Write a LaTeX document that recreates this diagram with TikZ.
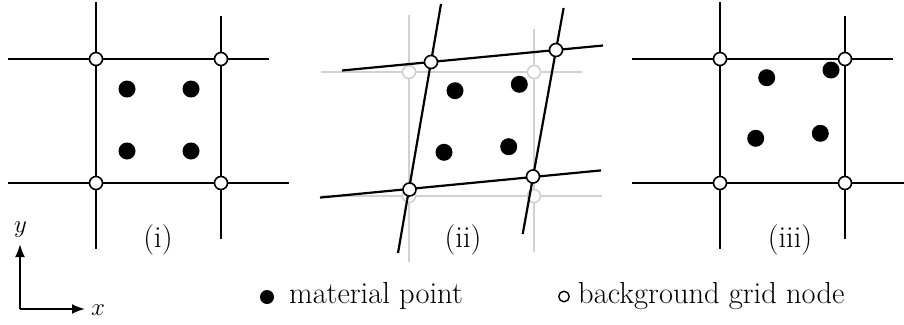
\documentclass[tikz,border=0pt]{standalone}
\usetikzlibrary{arrows.meta}
\begin{document}
\begin{tikzpicture}[x=1pt,y=-1pt,
  gridline/.style={line width=2.2pt},
  ghostline/.style={line width=2.2pt,draw=black!18},
  gnode/.style={circle,draw=black,fill=white,line width=1.6pt,minimum size=13pt,inner sep=0pt},
  ghostnode/.style={circle,draw=black!18,fill=white,line width=1.6pt,minimum size=13pt,inner sep=0pt},
  mpoint/.style={circle,fill=black,minimum size=17pt,inner sep=0pt},
  lbl/.style={font=\fontsize{30.5}{36}\selectfont,inner sep=0pt},
  axis/.style={line width=2pt,-{Latex[length=13pt,width=10pt]}}
]
\useasboundingbox (0,0) rectangle (904,324);

% ---------- panel (i)
\coordinate (i-v1a) at (96,2);   \coordinate (i-v1b) at (96,249);
\coordinate (i-v2a) at (221,16); \coordinate (i-v2b) at (221,239);
\coordinate (i-h1a) at (8,59);   \coordinate (i-h1b) at (269,59);
\coordinate (i-h2a) at (8,183);  \coordinate (i-h2b) at (289,183);
\draw[gridline] (i-v1a) -- (i-v1b);
\draw[gridline] (i-v2a) -- (i-v2b);
\draw[gridline] (i-h1a) -- (i-h1b);
\draw[gridline] (i-h2a) -- (i-h2b);
\node[gnode] (i-n1) at (96,59) {};
\node[gnode] (i-n2) at (221,59) {};
\node[gnode] (i-n3) at (96,183) {};
\node[gnode] (i-n4) at (221,183) {};
\node[mpoint] (i-p1) at (127,89) {};
\node[mpoint] (i-p2) at (191,89) {};
\node[mpoint] (i-p3) at (127,151) {};
\node[mpoint] (i-p4) at (191,151) {};
\node[lbl] (i-lab) at (158,240) {(i)};

% ---------- panel (ii) : undeformed ghost grid
\coordinate (g-v1a) at (409,15);  \coordinate (g-v1b) at (409,262);
\coordinate (g-v2a) at (534,29);  \coordinate (g-v2b) at (534,252);
\coordinate (g-h1a) at (321,72);  \coordinate (g-h1b) at (582,72);
\coordinate (g-h2a) at (321,196); \coordinate (g-h2b) at (602,196);
\draw[ghostline] (g-v1a) -- (g-v1b);
\draw[ghostline] (g-v2a) -- (g-v2b);
\draw[ghostline] (g-h1a) -- (g-h1b);
\draw[ghostline] (g-h2a) -- (g-h2b);
\node[ghostnode] (g-n1) at (409,72) {};
\node[ghostnode] (g-n2) at (534,72) {};
\node[ghostnode] (g-n3) at (409,196) {};
\node[ghostnode] (g-n4) at (534,196) {};
% deformed grid
\coordinate (ii-v1a) at (441,4);     \coordinate (ii-v1b) at (398,253);
\coordinate (ii-v2a) at (563.6,8);   \coordinate (ii-v2b) at (522.7,234);
\coordinate (ii-h1a) at (342,70.5);  \coordinate (ii-h1b) at (603,45.5);
\coordinate (ii-h2a) at (320,197.6); \coordinate (ii-h2b) at (601,170.4);
\draw[gridline] (ii-v1a) -- (ii-v1b);
\draw[gridline] (ii-v2a) -- (ii-v2b);
\draw[gridline] (ii-h1a) -- (ii-h1b);
\draw[gridline] (ii-h2a) -- (ii-h2b);
\node[gnode] (ii-n1) at (431,62) {};
\node[gnode] (ii-n2) at (556,50) {};
\node[gnode] (ii-n3) at (409.5,189.5) {};
\node[gnode] (ii-n4) at (533,176.5) {};
\node[mpoint] (ii-p1) at (455,90.7) {};
\node[mpoint] (ii-p2) at (519.3,84.3) {};
\node[mpoint] (ii-p3) at (444,152.3) {};
\node[mpoint] (ii-p4) at (508.7,146.7) {};
\node[lbl] (ii-lab) at (463,240) {(ii)};

% ---------- panel (iii)
\coordinate (iii-v1a) at (720,2);   \coordinate (iii-v1b) at (720,249);
\coordinate (iii-v2a) at (845,16);  \coordinate (iii-v2b) at (845,239);
\coordinate (iii-h1a) at (632,59);  \coordinate (iii-h1b) at (893,59);
\coordinate (iii-h2a) at (632,183); \coordinate (iii-h2b) at (904,183);
\draw[gridline] (iii-v1a) -- (iii-v1b);
\draw[gridline] (iii-v2a) -- (iii-v2b);
\draw[gridline] (iii-h1a) -- (iii-h1b);
\draw[gridline] (iii-h2a) -- (iii-h2b);
\node[gnode] (iii-n1) at (720,59) {};
\node[gnode] (iii-n2) at (845,59) {};
\node[gnode] (iii-n3) at (720,183) {};
\node[gnode] (iii-n4) at (845,183) {};
\node[mpoint] (iii-p1) at (766.7,77.7) {};
\node[mpoint] (iii-p2) at (831,70) {};
\node[mpoint] (iii-p3) at (755.7,138.3) {};
\node[mpoint] (iii-p4) at (820.3,133.3) {};
\node[lbl] (iii-lab) at (790,240) {(iii)};

% ---------- axes
\coordinate (ax-o) at (20,309);
\coordinate (ax-y) at (20,244);
\coordinate (ax-x) at (85,309);
\draw[axis] (ax-o) -- (ax-y);
\draw[axis] (ax-o) -- (ax-x);
\node[lbl] (ylab) at (20.5,230) {$y$};
\node[lbl] (xlab) at (98,310) {$x$};

% ---------- legend
\node[circle,fill=black,minimum size=14pt,inner sep=0pt] (leg-mp) at (267,297) {};
\node[lbl,anchor=base west] (leg-mp-t) at (289,303) {material point};
\node[circle,draw=black,fill=white,line width=1.4pt,minimum size=10.5pt,inner sep=0pt] (leg-gn) at (564,296.5) {};
\node[lbl,anchor=base west] (leg-gn-t) at (578,303) {background grid node};
\end{tikzpicture}
\end{document}
